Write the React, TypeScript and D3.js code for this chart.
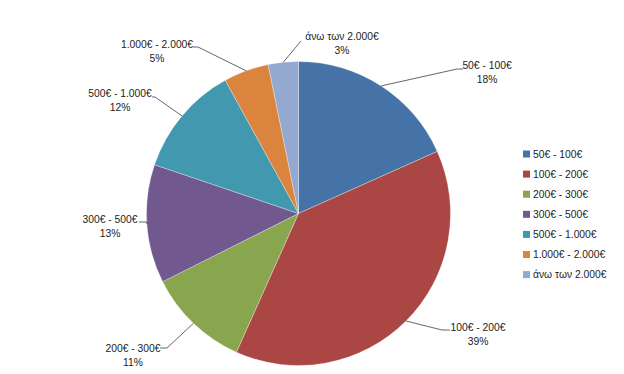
import React from "react";
import * as d3 from "d3";

const categories = ["50€ - 100€", "100€ - 200€", "200€ - 300€", "300€ - 500€", "500€ - 1.000€", "1.000€ - 2.000€", "άνω των 2.000€"];
const shares = [18.3, 38.4, 10.9, 12.6, 11.8, 4.8, 3.2];
const percentLabels = ["18%", "39%", "11%", "13%", "12%", "5%", "3%"];
const colors = ["#4572A7", "#AA4643", "#89A54E", "#71588F", "#4198AF", "#DB843D", "#93A9CF"];

// label placement: text centre x, first line y, elbow point of the leader, tick end
const labelLayout = [
  { x: 487, y: 65, ex: 457, ey: 69, tx: 463 },
  { x: 478, y: 327, ex: 442, ey: 330, tx: 450 },
  { x: 133, y: 348, ex: 167, ey: 348, tx: 160 },
  { x: 110, y: 219, ex: 147, ey: 222, tx: 139 },
  { x: 120, y: 93, ex: 155, ey: 97, tx: 152 },
  { x: 157, y: 44, ex: 198, ey: 47, tx: 193 },
  { x: 342, y: 36, ex: 301, ey: 41, tx: 301 },
];

export default function App() {
  const width = 624,
    height = 374;
  const cx = 298.5,
    cy = 213.5,
    r = 152;

  const data = categories.map((c, i) => ({ name: c, value: shares[i], pct: percentLabels[i], color: colors[i] }));

  const pie = d3.pie<any>().sort(null).value((d) => d.value);
  const arcs = pie(data);
  const arc = d3.arc<any>().innerRadius(0).outerRadius(r);

  const font = "'Liberation Sans', Arial, sans-serif";

  return (
    <svg width={width} height={height} style={{ position: "absolute", left: 0, top: 0, background: "#fff" }}>
      <g transform={"translate(" + cx + "," + cy + ")"}>
        {arcs.map((a, i) => (
          <path key={i} d={arc(a) as string} fill={a.data.color} stroke="#fff" strokeOpacity={0.5} strokeWidth={0.6} />
        ))}
      </g>
      {arcs.map((a, i) => {
        const mid = (a.startAngle + a.endAngle) / 2;
        const sx = cx + r * Math.sin(mid);
        const sy = cy - r * Math.cos(mid);
        const L = labelLayout[i];
        return (
          <g key={i}>
            <polyline
              points={sx + "," + sy + " " + L.ex + "," + L.ey + " " + L.tx + "," + L.ey}
              fill="none"
              stroke="#404040"
              strokeWidth={0.8}
            />
            <text x={L.x} y={L.y} textAnchor="middle" dominantBaseline="central" fontFamily={font} fontSize={10.3} fill="#222">
              {a.data.name}
            </text>
            <text x={L.x} y={L.y + 14.5} textAnchor="middle" dominantBaseline="central" fontFamily={font} fontSize={10.3} fill="#222">
              {a.data.pct}
            </text>
          </g>
        );
      })}
      <g transform="translate(523,154)">
        {data.map((d, i) => (
          <g key={i} transform={"translate(0," + i * 20.1 + ")"}>
            <rect x={0} y={-3.5} width={7} height={7} fill={d.color} />
            <text x={10} y={0} dominantBaseline="central" fontFamily={font} fontSize={10.3} fill="#222">
              {d.name}
            </text>
          </g>
        ))}
      </g>
    </svg>
  );
}
